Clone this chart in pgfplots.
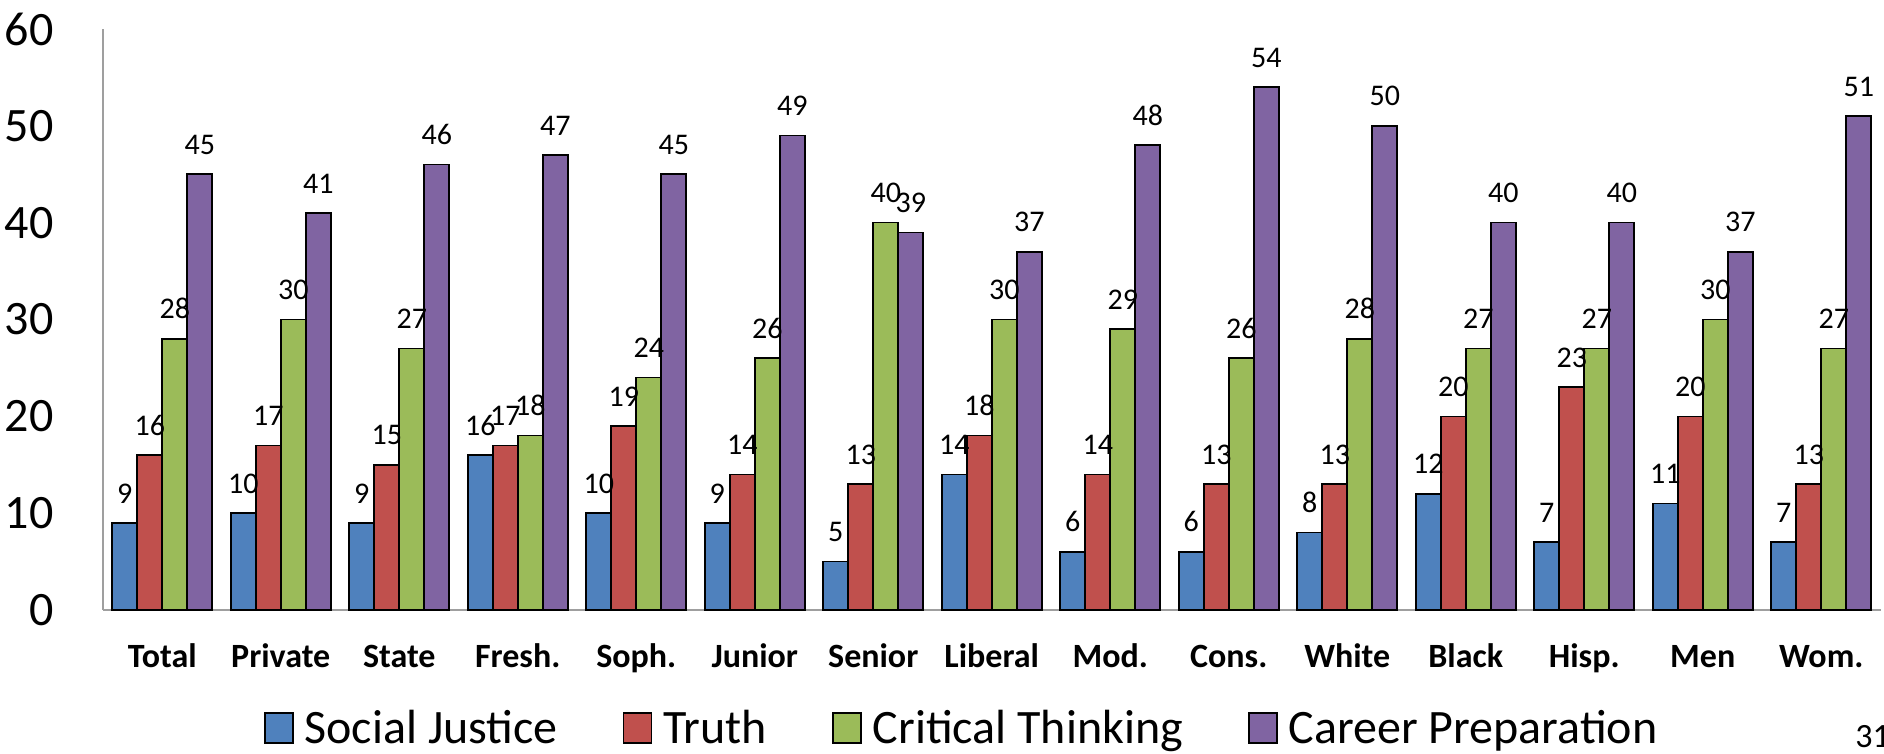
\documentclass[border=0pt]{standalone}
\usepackage{fontspec}
\setmainfont{Carlito}
\usepackage{pgfplots}
\usepackage{pgfplotstable}
\pgfplotsset{compat=1.18}

\definecolor{cSJ}{HTML}{4F81BD}
\definecolor{cTR}{HTML}{C0504D}
\definecolor{cCT}{HTML}{9BBB59}
\definecolor{cCP}{HTML}{8064A2}

% x  social justice, truth, critical thinking, career preparation
\pgfplotstableread{
x  sj tr ct cp
0  9  16 28 45
1  10 17 30 41
2  9  15 27 46
3  16 17 18 47
4  10 19 24 45
5  9  14 26 49
6  5  13 40 39
7  14 18 30 37
8  6  14 29 48
9  6  13 26 54
10 8  13 28 50
11 12 20 27 40
12 7  23 27 40
13 11 20 30 37
14 7  13 27 51
}\groups

\begin{document}
\begin{tikzpicture}
\begin{axis}[
  at={(0,0)}, anchor=south west,
  scale only axis,
  width=888.75pt, height=290.5pt,
  ybar=0pt, bar width=12.5pt,
  xmin=-0.5, xmax=14.5, ymin=0, ymax=60,
  clip=false,
  axis x line*=bottom, axis y line*=left,
  axis line style={draw=gray!75, line width=1pt, -},
  major tick length=0pt,
  xtick={0,...,14},
  xticklabels={Total,Private,State,Fresh.,Soph.,Junior,Senior,Liberal,Mod.,Cons.,White,Black,Hisp.,Men,Wom.},
  xticklabel style={font=\fontsize{17}{20}\selectfont\bfseries, anchor=base, yshift=-28.5pt, inner sep=0pt},
  ytick={0,10,...,60},
  yticklabel style={font=\fontsize{24}{28}\selectfont, anchor=east, inner sep=0pt, xshift=-24.5pt},
  /pgf/number format/assume math mode=true,
  nodes near coords,
  every node near coord/.append style={font=\fontsize{15}{18}\selectfont, anchor=south, inner sep=0pt, yshift=9.5pt, black},
  legend columns=4,
  legend image code/.code={\draw[#1] (0pt,0pt) rectangle (14pt,15pt);},
  legend style={draw=none, fill=none, inner sep=0pt, outer sep=0pt,
    font=\fontsize{24}{28}\selectfont,
    at={(axis description cs:0,0)}, anchor=west, xshift=80.5pt, yshift=-59pt,
    cells={anchor=base west}, nodes={inner sep=0pt},
    /tikz/every odd column/.append style={column sep=5.5pt},
    /tikz/every even column/.append style={column sep=32.5pt}},
]
\addplot[draw=black, line width=0.8pt, fill=cSJ] table[x=x, y=sj] {\groups};
\addplot[draw=black, line width=0.8pt, fill=cTR] table[x=x, y=tr] {\groups};
\addplot[draw=black, line width=0.8pt, fill=cCT] table[x=x, y=ct] {\groups};
\addplot[draw=black, line width=0.8pt, fill=cCP] table[x=x, y=cp] {\groups};
\legend{Social Justice, Truth, Critical Thinking, Career Preparation}
\end{axis}
\node[anchor=base west, inner sep=0pt, font=\fontsize{17}{20}\selectfont] at (876pt,-69pt) {31};
\pgfresetboundingbox
\useasboundingbox (-51.5pt,-72pt) rectangle (890.5pt,305pt);
\end{tikzpicture}
\end{document}
